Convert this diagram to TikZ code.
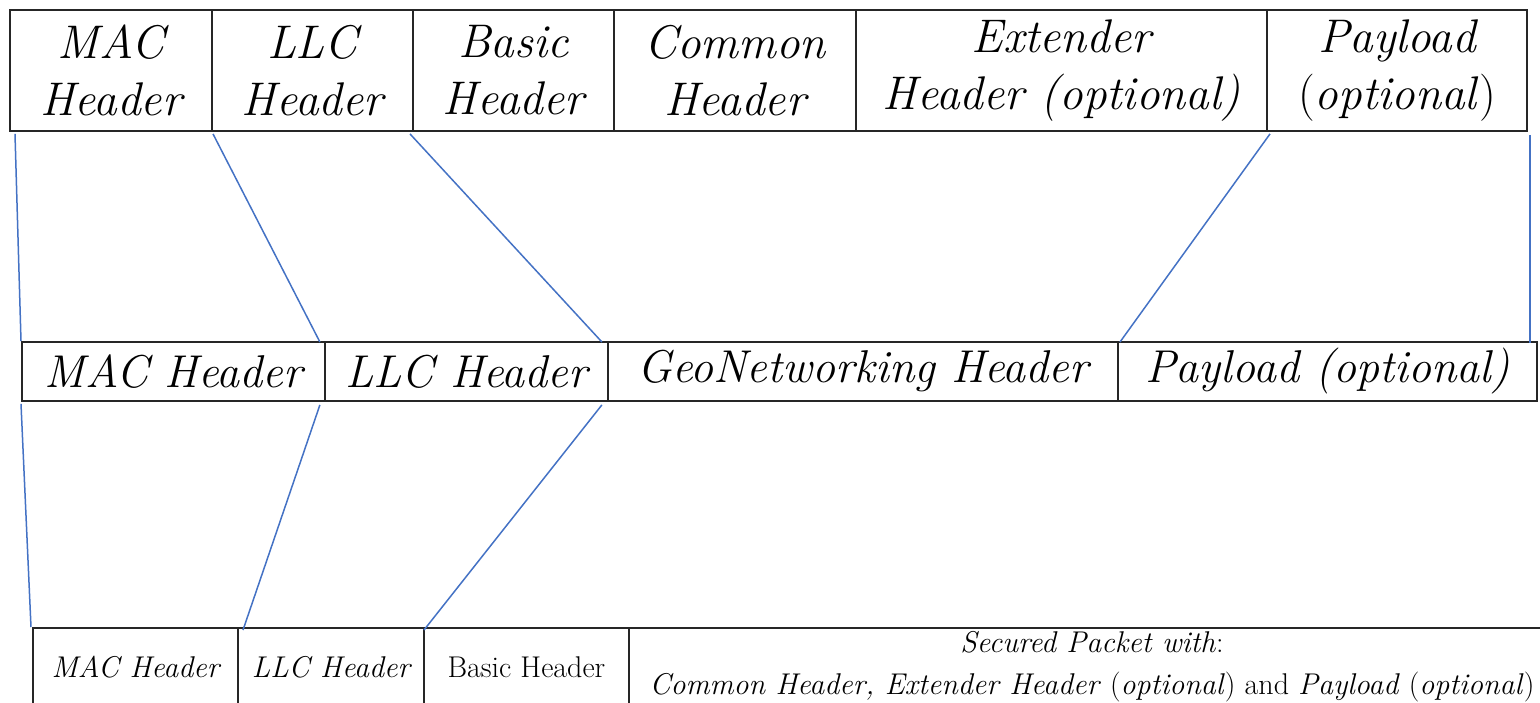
\documentclass[tikz,border=0pt]{standalone}
\usetikzlibrary{calc}
\definecolor{linkblue}{RGB}{68,114,196}
\tikzset{
  cell/.style={draw=black!85, line width=0.95pt, inner sep=0pt, anchor=north west, align=center},
  toprow/.style={cell, minimum height=60.5pt, font=\fontsize{23.6}{28.5}\selectfont\itshape},
  midrow/.style={cell, minimum height=29.5pt, font=\fontsize{23}{28}\selectfont\itshape},
  lowrow/.style={cell, minimum height=39pt, font=\fontsize{15}{21}\selectfont},
  link/.style={draw=linkblue, line width=0.75pt},
}
\begin{document}
\begin{tikzpicture}[x=0.5pt, y=-0.5pt]
\useasboundingbox (0,0) rectangle (1540,702);
\clip (0,0) rectangle (1540,702);

% GeoNetworking packet with all headers
\node[toprow, minimum width=101pt]   (t1) at (9,9)    {MAC\\Header};
\node[toprow, minimum width=100.5pt] (t2) at (211,9)  {LLC\\Header};
\node[toprow, minimum width=100.5pt] (t3) at (412,9)  {Basic\\Header};
\node[toprow, minimum width=121pt]   (t4) at (613,9)  {Common\\Header};
\node[toprow, minimum width=205.5pt] (t5) at (855,9)  {Extender\\Header (optional)};
\node[toprow, minimum width=130pt]   (t6) at (1266,9) {Payload\\\textup{(}optional\textup{)}};

% Condensed view
\node[midrow, minimum width=151.5pt] (m1) at (21,341)   {MAC Header};
\node[midrow, minimum width=141.5pt] (m2) at (324,341)  {LLC Header};
\node[midrow, minimum width=255pt]   (m3) at (607,341)  {GeoNetworking Header};
\node[midrow, minimum width=209.5pt] (m4) at (1117,341) {Payload (optional)};

% Secured packet
\node[lowrow, minimum width=102.5pt] (b1) at (32,627)  {\itshape MAC Header};
\node[lowrow, minimum width=93pt]    (b2) at (237,627) {\itshape LLC Header};
\node[lowrow, minimum width=102.5pt] (b3) at (423,627) {Basic Header};
\node[lowrow, minimum width=463pt]   (b4) at (628,627)
  {\textit{Secured Packet with}:\\
   \textit{Common Header, Extender Header} (\textit{optional}) and \textit{Payload} (\textit{optional})};

% Top to middle
\draw[link] ($(t1.south west)+(6,2)$)  -- (m1.north west);
\draw[link] ($(t2.south west)+(2,2)$)  -- ($(m1.north east)+(-6,1)$);
\draw[link] ($(t3.south west)+(-2,2)$) -- ($(m2.north east)+(-7,1)$);
\draw[link] ($(t6.south west)+(4,2)$)  -- ($(m4.north west)+(3,1)$);
\draw[link] ($(t6.south east)+(2,3)$)  -- ($(m4.north east)+(-8,2)$);

% Middle to bottom
\draw[link] ($(m1.south west)+(0,2)$)  -- ($(b1.north west)+(-1,0)$);
\draw[link] ($(m1.south east)+(-6,3)$) -- ($(b2.north west)+(6,3)$);
\draw[link] ($(m2.south east)+(-7,3)$) -- ($(b3.north west)+(1,3)$);
\end{tikzpicture}
\end{document}
